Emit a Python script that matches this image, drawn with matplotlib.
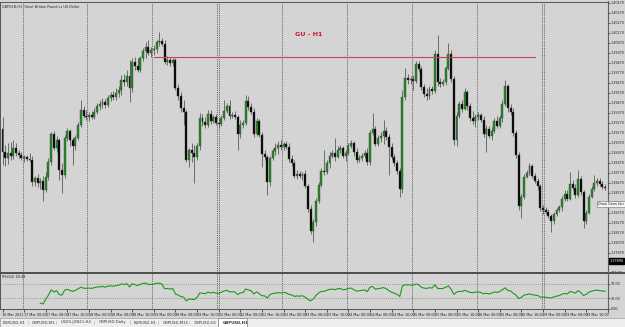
import matplotlib
matplotlib.use('Agg')
import matplotlib.pyplot as plt
import numpy as np
import pandas as pd
from matplotlib.patches import Rectangle
from matplotlib.lines import Line2D

# GBPUSD H1 candles, 16 Mar 16:00 .. 29 Mar 23:00
opens = [
    1.3921, 1.3898, 1.3892, 1.3897, 1.3894, 1.3902, 1.3897, 1.3895, 1.3892, 1.3893,
    1.3891, 1.3890, 1.3868, 1.3872, 1.3867, 1.3869, 1.3860, 1.3873, 1.3888, 1.3916,
    1.3902, 1.3910, 1.3880, 1.3875, 1.3912, 1.3919, 1.3910, 1.3904, 1.3912, 1.3925,
    1.3940, 1.3934, 1.3933, 1.3935, 1.3933, 1.3938, 1.3944, 1.3946, 1.3948, 1.3945,
    1.3952, 1.3955, 1.3953, 1.3957, 1.3960, 1.3970, 1.3968, 1.3974, 1.3962, 1.3988,
    1.3984, 1.3980, 1.3992, 1.3999, 1.4003, 1.3997, 1.4000, 1.4001, 1.4008, 1.4009,
    1.4006, 1.3988, 1.3990, 1.3987, 1.3990, 1.3962, 1.3954, 1.3942, 1.3938, 1.3890,
    1.3900, 1.3897, 1.3893, 1.3904, 1.3932, 1.3928, 1.3925, 1.3936, 1.3929, 1.3933,
    1.3927, 1.3926, 1.3932, 1.3939, 1.3944, 1.3934, 1.3935, 1.3933, 1.3916, 1.3925,
    1.3927, 1.3949, 1.3943, 1.3938, 1.3916, 1.3929, 1.3915, 1.3896, 1.3893, 1.3868,
    1.3892, 1.3899, 1.3902, 1.3905, 1.3903, 1.3906, 1.3903, 1.3891, 1.3887, 1.3874,
    1.3876, 1.3874, 1.3876, 1.3864, 1.3841, 1.3819, 1.3828, 1.3849, 1.3865, 1.3879,
    1.3878, 1.3887, 1.3894, 1.3897, 1.3893, 1.3900, 1.3902, 1.3894, 1.3897, 1.3904,
    1.3907, 1.3898, 1.3890, 1.3892, 1.3894, 1.3897, 1.3888, 1.3917, 1.3921, 1.3906,
    1.3912, 1.3914, 1.3919, 1.3913, 1.3903, 1.3893, 1.3887, 1.3879, 1.3861, 1.3953,
    1.3972, 1.3970, 1.3971, 1.3969, 1.3986, 1.3981, 1.3963, 1.3956, 1.3954, 1.3961,
    1.3959, 1.3996, 1.3968, 1.3966, 1.3968, 1.3982, 1.3996, 1.3971, 1.3910, 1.3934,
    1.3946, 1.3941, 1.3958, 1.3944, 1.3932, 1.3929, 1.3933, 1.3935, 1.3930, 1.3916,
    1.3921, 1.3914, 1.3919, 1.3929, 1.3924, 1.3932, 1.3946, 1.3964, 1.3942, 1.3938,
    1.3917, 1.3895, 1.3844, 1.3853, 1.3873, 1.3877, 1.3884, 1.3874, 1.3869, 1.3864,
    1.3842, 1.3840, 1.3838, 1.3834, 1.3829, 1.3836, 1.3840, 1.3843, 1.3851, 1.3856,
    1.3851, 1.3866, 1.3862, 1.3855, 1.3871, 1.3858, 1.3829, 1.3837, 1.3853, 1.3861,
    1.3867, 1.3869, 1.3866, 1.3863,
]
highs = [
    1.3933, 1.3905, 1.3907, 1.3908, 1.3910, 1.3907, 1.3900, 1.3898, 1.3895, 1.3895,
    1.3897, 1.3894, 1.3874, 1.3876, 1.3872, 1.3874, 1.3878, 1.3892, 1.3918, 1.3919,
    1.3914, 1.3912, 1.3887, 1.3915, 1.3922, 1.3921, 1.3913, 1.3915, 1.3928, 1.3950,
    1.3944, 1.3940, 1.3938, 1.3939, 1.3942, 1.3947, 1.3950, 1.3952, 1.3951, 1.3955,
    1.3958, 1.3959, 1.3962, 1.3964, 1.3975, 1.3976, 1.3980, 1.3990, 1.3992, 1.3993,
    1.3992, 1.3994, 1.4002, 1.4008, 1.4010, 1.4003, 1.4005, 1.4010, 1.4018, 1.4012,
    1.4010, 1.3994, 1.3993, 1.3992, 1.3992, 1.3966, 1.3958, 1.3950, 1.3940, 1.3902,
    1.3907, 1.3905, 1.3907, 1.3937, 1.3936, 1.3933, 1.3940, 1.3940, 1.3935, 1.3936,
    1.3932, 1.3935, 1.3950, 1.3947, 1.3950, 1.3938, 1.3939, 1.3935, 1.3930, 1.3930,
    1.3955, 1.3954, 1.3947, 1.3942, 1.3932, 1.3931, 1.3918, 1.3900, 1.3895, 1.3894,
    1.3902, 1.3907, 1.3909, 1.3910, 1.3908, 1.3909, 1.3907, 1.3895, 1.3890, 1.3880,
    1.3879, 1.3878, 1.3880, 1.3866, 1.3845, 1.3831, 1.3852, 1.3868, 1.3882, 1.3900,
    1.3890, 1.3898, 1.3900, 1.3912, 1.3904, 1.3905, 1.3904, 1.3900, 1.3907, 1.3910,
    1.3909, 1.3902, 1.3895, 1.3897, 1.3900, 1.3902, 1.3920, 1.3937, 1.3924, 1.3915,
    1.3918, 1.3930, 1.3923, 1.3916, 1.3907, 1.3896, 1.3890, 1.3882, 1.3960, 1.3982,
    1.3976, 1.3974, 1.3975, 1.3989, 1.3989, 1.3984, 1.3966, 1.3962, 1.3964, 1.3964,
    1.4000, 1.4015, 1.3972, 1.3971, 1.3984, 1.4007, 1.4000, 1.3974, 1.3938, 1.3949,
    1.3950, 1.3962, 1.3960, 1.3947, 1.3939, 1.3936, 1.3938, 1.3937, 1.3934, 1.3925,
    1.3924, 1.3923, 1.3932, 1.3934, 1.3935, 1.3950, 1.3970, 1.3966, 1.3946, 1.3942,
    1.3920, 1.3898, 1.3856, 1.3876, 1.3880, 1.3887, 1.3886, 1.3877, 1.3872, 1.3866,
    1.3845, 1.3843, 1.3841, 1.3836, 1.3838, 1.3842, 1.3845, 1.3854, 1.3860, 1.3860,
    1.3878, 1.3870, 1.3866, 1.3880, 1.3874, 1.3860, 1.3840, 1.3856, 1.3864, 1.3875,
    1.3872, 1.3872, 1.3869, 1.3866,
]
lows = [
    1.3885, 1.3884, 1.3886, 1.3890, 1.3891, 1.3894, 1.3892, 1.3890, 1.3888, 1.3889,
    1.3888, 1.3864, 1.3864, 1.3863, 1.3861, 1.3849, 1.3858, 1.3870, 1.3885, 1.3900,
    1.3898, 1.3870, 1.3857, 1.3872, 1.3909, 1.3904, 1.3885, 1.3900, 1.3910, 1.3923,
    1.3932, 1.3930, 1.3929, 1.3931, 1.3931, 1.3936, 1.3940, 1.3942, 1.3942, 1.3943,
    1.3949, 1.3950, 1.3950, 1.3953, 1.3955, 1.3964, 1.3964, 1.3948, 1.3958, 1.3980,
    1.3978, 1.3978, 1.3989, 1.3992, 1.3995, 1.3993, 1.3995, 1.3997, 1.4004, 1.4004,
    1.3986, 1.3985, 1.3984, 1.3984, 1.3960, 1.3950, 1.3938, 1.3925, 1.3888, 1.3883,
    1.3888, 1.3867, 1.3890, 1.3900, 1.3924, 1.3922, 1.3923, 1.3926, 1.3927, 1.3925,
    1.3922, 1.3924, 1.3930, 1.3937, 1.3931, 1.3932, 1.3931, 1.3900, 1.3912, 1.3922,
    1.3925, 1.3940, 1.3936, 1.3913, 1.3914, 1.3913, 1.3883, 1.3890, 1.3855, 1.3864,
    1.3890, 1.3895, 1.3896, 1.3900, 1.3900, 1.3901, 1.3888, 1.3884, 1.3872, 1.3871,
    1.3872, 1.3870, 1.3862, 1.3838, 1.3816, 1.3808, 1.3824, 1.3847, 1.3863, 1.3875,
    1.3876, 1.3882, 1.3892, 1.3889, 1.3892, 1.3897, 1.3892, 1.3889, 1.3895, 1.3902,
    1.3894, 1.3887, 1.3888, 1.3889, 1.3892, 1.3885, 1.3885, 1.3915, 1.3904, 1.3904,
    1.3908, 1.3906, 1.3910, 1.3875, 1.3890, 1.3884, 1.3876, 1.3853, 1.3857, 1.3950,
    1.3966, 1.3966, 1.3960, 1.3967, 1.3978, 1.3960, 1.3953, 1.3950, 1.3951, 1.3956,
    1.3957, 1.3964, 1.3963, 1.3964, 1.3965, 1.3980, 1.3968, 1.3905, 1.3904, 1.3932,
    1.3938, 1.3940, 1.3940, 1.3929, 1.3926, 1.3923, 1.3930, 1.3928, 1.3913, 1.3898,
    1.3912, 1.3910, 1.3917, 1.3922, 1.3922, 1.3928, 1.3944, 1.3938, 1.3935, 1.3914,
    1.3892, 1.3840, 1.3832, 1.3851, 1.3872, 1.3875, 1.3872, 1.3867, 1.3860, 1.3839,
    1.3836, 1.3836, 1.3832, 1.3818, 1.3826, 1.3834, 1.3838, 1.3839, 1.3849, 1.3849,
    1.3850, 1.3860, 1.3852, 1.3853, 1.3855, 1.3822, 1.3826, 1.3836, 1.3852, 1.3859,
    1.3864, 1.3864, 1.3861, 1.3860,
]
closes = [
    1.3898, 1.3892, 1.3897, 1.3894, 1.3902, 1.3897, 1.3895, 1.3892, 1.3893, 1.3891,
    1.3890, 1.3868, 1.3872, 1.3867, 1.3869, 1.3860, 1.3873, 1.3888, 1.3916, 1.3902,
    1.3910, 1.3880, 1.3875, 1.3912, 1.3919, 1.3910, 1.3904, 1.3912, 1.3925, 1.3940,
    1.3934, 1.3933, 1.3935, 1.3933, 1.3938, 1.3944, 1.3946, 1.3948, 1.3945, 1.3952,
    1.3955, 1.3953, 1.3957, 1.3960, 1.3970, 1.3968, 1.3974, 1.3962, 1.3988, 1.3984,
    1.3980, 1.3992, 1.3999, 1.4003, 1.3997, 1.4000, 1.4001, 1.4008, 1.4009, 1.4006,
    1.3988, 1.3990, 1.3987, 1.3990, 1.3962, 1.3954, 1.3942, 1.3938, 1.3890, 1.3900,
    1.3897, 1.3893, 1.3904, 1.3932, 1.3928, 1.3925, 1.3936, 1.3929, 1.3933, 1.3927,
    1.3926, 1.3932, 1.3939, 1.3944, 1.3934, 1.3935, 1.3933, 1.3916, 1.3925, 1.3927,
    1.3949, 1.3943, 1.3938, 1.3916, 1.3929, 1.3915, 1.3896, 1.3893, 1.3868, 1.3892,
    1.3899, 1.3902, 1.3905, 1.3903, 1.3906, 1.3903, 1.3891, 1.3887, 1.3874, 1.3876,
    1.3874, 1.3876, 1.3864, 1.3841, 1.3819, 1.3828, 1.3849, 1.3865, 1.3879, 1.3878,
    1.3887, 1.3894, 1.3897, 1.3893, 1.3900, 1.3902, 1.3894, 1.3897, 1.3904, 1.3907,
    1.3898, 1.3890, 1.3892, 1.3894, 1.3897, 1.3888, 1.3917, 1.3921, 1.3906, 1.3912,
    1.3914, 1.3919, 1.3913, 1.3903, 1.3893, 1.3887, 1.3879, 1.3861, 1.3953, 1.3972,
    1.3970, 1.3971, 1.3969, 1.3986, 1.3981, 1.3963, 1.3956, 1.3954, 1.3961, 1.3959,
    1.3996, 1.3968, 1.3966, 1.3968, 1.3982, 1.3996, 1.3971, 1.3910, 1.3934, 1.3946,
    1.3941, 1.3958, 1.3944, 1.3932, 1.3929, 1.3933, 1.3935, 1.3930, 1.3916, 1.3921,
    1.3914, 1.3919, 1.3929, 1.3924, 1.3932, 1.3946, 1.3964, 1.3942, 1.3938, 1.3917,
    1.3895, 1.3844, 1.3853, 1.3873, 1.3877, 1.3884, 1.3874, 1.3869, 1.3864, 1.3842,
    1.3840, 1.3838, 1.3834, 1.3829, 1.3836, 1.3840, 1.3843, 1.3851, 1.3856, 1.3851,
    1.3866, 1.3862, 1.3855, 1.3871, 1.3858, 1.3829, 1.3837, 1.3853, 1.3861, 1.3867,
    1.3869, 1.3866, 1.3863, 1.3862,
]

first_bar = '2021-03-16 16:00'
last_bar = '2021-03-29 23:00'

# horizontal trend line drawn over the two tops
level_price = 1.3993
level_from = '2021-03-19 00:00'
level_to = '2021-03-26 21:00'

bid_price = 1.3789
rsi_period = 14
rsi_levels = [70, 30]
rsi_ticks = [100, 70, 30, 0]

tabs = ['EURUSD,H1', 'GBPUSD,M1', 'USDX-JUN21,H4', 'GBPUSD,Daily',
        'EURUSD,H1', 'GBPUSD,M15', 'GBPUSD,H1', 'GBPUSD,H1']
active_tab = 7

W, H = 625, 327
bg = '#d4d4d4'
frame = '#555555'
small = 2.4


def fx(px):
    return px / W


def fy(py):
    return 1 - py / H


hours = pd.date_range(first_bar, last_bar, freq='h')
times = hours[hours.dayofweek < 5][:len(closes)]
n = len(closes)
idx = np.arange(n)
o = np.array(opens)
h = np.array(highs)
l = np.array(lows)
c = np.array(closes)

fig = plt.figure(figsize=(W / 100, H / 100), dpi=100, facecolor=bg)
ax = fig.add_axes([0, fy(272), fx(608), 270 / H])
ax2 = fig.add_axes([0, fy(309), fx(608), 36 / H])

# bar positions: bar 0 at ~2.5px, bar 200 at ~543px
step = 540.5 / 200
xlo = -2.5 / step
xhi = (608 - 2.5) / step

for a in (ax, ax2):
    a.set_facecolor(bg)
    a.set_xlim(xlo, xhi)
    for s in a.spines.values():
        s.set_color(frame)
        s.set_linewidth(0.7)

# candles
ax.vlines(idx, l, h, color='#6a6a6a', lw=0.7, zorder=2)
body = np.maximum(np.abs(c - o), 0.00008)
bottom = (o + c) / 2 - body / 2
up = c >= o
ax.bar(idx[up], body[up], bottom=bottom[up], width=0.72, color='#1f8f1f',
       edgecolor='#404040', linewidth=0.3, zorder=3)
ax.bar(idx[~up], body[~up], bottom=bottom[~up], width=0.72, color='black',
       edgecolor='#404040', linewidth=0.3, zorder=3)

ax.set_ylim(1.4050 - 0.0272, 1.4050 - 0.0002)
ax.set_xticks([])
ax.yaxis.tick_right()
ax.set_yticks(np.arange(1.4047, 1.3778, -0.001))
ax.yaxis.set_major_formatter(matplotlib.ticker.FormatStrFormatter('%.5f'))
ax.tick_params(axis='y', labelsize=small, length=1.2, width=0.5, pad=0.8,
               colors='#222222')

# period separators (double at the start of a week)
for i, t in enumerate(times):
    if t.hour == 0:
        for a in (ax, ax2):
            a.axvline(i - 0.55, color='#444444', ls=(0, (1, 1.2)), lw=0.6, zorder=1)
            if t.dayofweek == 0:
                a.axvline(i + 0.2, color='#444444', ls=(0, (1, 1.2)), lw=0.6, zorder=1)

# trend line
i0 = times.get_loc(pd.Timestamp(level_from))
i1 = times.get_loc(pd.Timestamp(level_to))
ax.plot([i0, i1], [level_price, level_price], color='#c8405a', lw=0.8, zorder=4)

ax.text(0.004, 0.99, 'GBPUSD,H1  Great Britain Pound vs US Dollar', transform=ax.transAxes,
        fontsize=small, va='top', ha='left', color='#222222')
ax.text(309 / 608, (272 - 34) / 270, 'GU - H1', transform=ax.transAxes, fontsize=4.6,
        fontweight='bold', color='#d01030', ha='center', va='center')

# RSI
cs = pd.Series(closes)
d = cs.diff()
ag = d.clip(lower=0).ewm(alpha=1 / rsi_period, adjust=False, min_periods=rsi_period).mean()
al = (-d.clip(upper=0)).ewm(alpha=1 / rsi_period, adjust=False, min_periods=rsi_period).mean()
rsi = 100 - 100 / (1 + ag / al)

ax2.plot(idx, rsi, color='#1a9a1a', lw=0.8, zorder=3)
for lv in rsi_levels:
    ax2.axhline(lv, color='#8a8a70', ls=(0, (1, 1.5)), lw=0.6, zorder=1)
ax2.set_ylim(0, 100)
ax2.yaxis.tick_right()
ax2.set_yticks(rsi_ticks)
ax2.set_yticklabels(['%.2f' % v for v in rsi_ticks])
ax2.tick_params(axis='y', labelsize=small, length=1.2, width=0.5, pad=0.8, colors='#222222')
ax2.text(0.004, 0.95, 'RSI(%d) %.2f' % (rsi_period, rsi.iloc[-1]), transform=ax2.transAxes,
         fontsize=small, va='top', ha='left', color='#222222')

# time axis
lab_idx = list(range(0, n, 8))
labels = []
for i in lab_idx:
    t = times[i]
    labels.append(t.strftime('%d %b %Y') if i == 0 else t.strftime('%d %b %H:%M'))
ax2.set_xticks(lab_idx)
ax2.set_xticklabels(labels)
ax2.tick_params(axis='x', labelsize=small, length=2, width=0.5, pad=1, colors='#222222')
for lab in ax2.get_xticklabels():
    lab.set_ha('left')

# divider between the windows and the right frame
fig.add_artist(Line2D([0, 1], [fy(272.5), fy(272.5)], transform=fig.transFigure,
                      color='#505050', lw=1.4))
fig.add_artist(Line2D([fx(608), fx(608)], [fy(1), fy(312)], transform=fig.transFigure,
                      color='#606060', lw=0.8))

# bid label on the price scale
yb = fy(272) + (bid_price - (1.4050 - 0.0272)) / 0.0270 * (270 / H)
fig.text(fx(609.5), yb, '%.5f' % bid_price, fontsize=small, color='white', va='center',
         ha='left', bbox=dict(boxstyle='square,pad=0.25', fc='black', ec='black'))

# cursor tooltip
fig.text(fx(598), fy(204), 'Draw Gann fan', fontsize=small, color='#222222', va='center',
         ha='left', bbox=dict(boxstyle='square,pad=0.3', fc='#f4f4f4', ec='#707070', lw=0.4))

# tab bar
fig.add_artist(Rectangle((0, 0), 1, 9 / H, transform=fig.transFigure, fc='#eeeeee',
                         ec='#a0a0a0', lw=0.5))
x = 3.0
for k, name in enumerate(tabs):
    w = len(name) * 2.3
    if k == active_tab:
        fig.add_artist(Rectangle((fx(x - 4), 0), fx(w + 8), 9 / H, transform=fig.transFigure,
                                 fc='white', ec='#808080', lw=0.5))
    fig.text(fx(x), fy(322.5), name, fontsize=2.8, color='#333333', va='center', ha='left',
             fontweight='bold' if k == active_tab else 'normal')
    if k < len(tabs) - 1:
        fig.text(fx(x + w + 4), fy(322.5), '|', fontsize=3, color='#888888',
                 va='center', ha='center')
    x += w + 8

fig.savefig('out.png', dpi=100, facecolor=bg)
